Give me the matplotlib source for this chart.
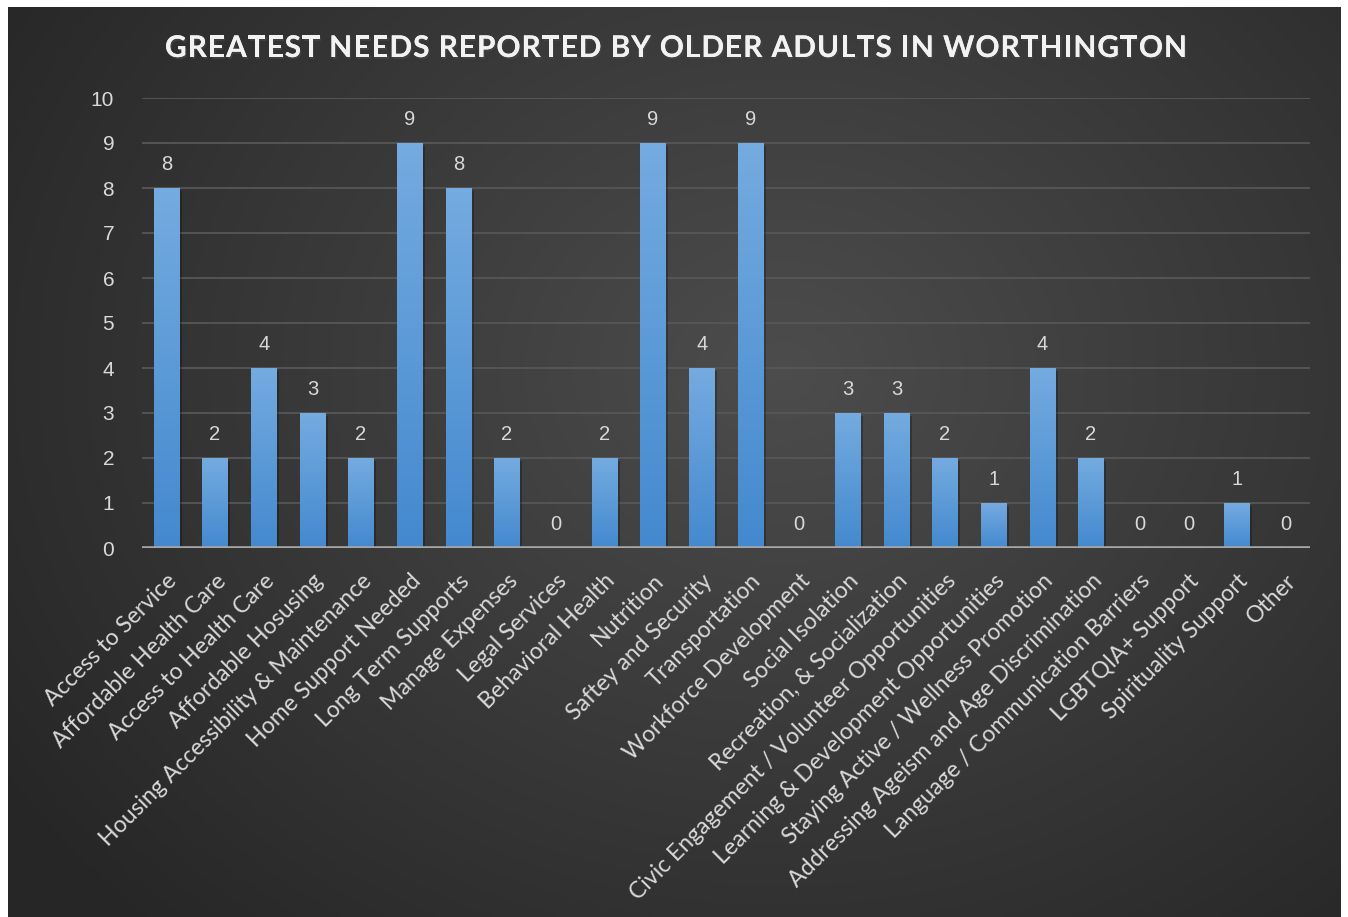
import matplotlib
matplotlib.use("Agg")
import matplotlib.pyplot as plt
import matplotlib.patheffects as pe
import numpy as np
from matplotlib import font_manager
from matplotlib.ft2font import FT2Font

categories = [
    "Access to Service", "Affordable Health Care", "Access to Health Care",
    "Affordable Hosusing", "Housing Accessibility & Maintenance",
    "Home Support Needed", "Long Term Supports", "Manage Expenses",
    "Legal Services", "Behavioral Health", "Nutrition", "Saftey and Security",
    "Transportation", "Workforce Development", "Social Isolation",
    "Recreation, & Socialization", "Civic Engagement / Volunteer Opportunities",
    "Learning & Development Opportunities", "Staying Active / Wellness Promotion",
    "Addressing Ageism and Age Discrimination", "Language / Communication Barriers",
    "LGBTQIA+ Support", "Spirituality Support", "Other",
]
values = [8, 2, 4, 3, 2, 9, 8, 2, 0, 2, 9, 4, 9, 0, 3, 3, 2, 1, 4, 2, 0, 0, 1, 0]
yticks = list(range(0, 11))
title = "GREATEST NEEDS REPORTED BY OLDER ADULTS IN WORTHINGTON"

W, H = 1348, 917
fig = plt.figure(figsize=(W / 100, H / 100), dpi=100)
fig.patch.set_facecolor("white")

# dark radial background panel
bg = fig.add_axes([8 / W, 0, (1341 - 8) / W, (H - 7) / H])
bg.axis("off")
gx, gy = np.meshgrid(np.linspace(0, 1, 400), np.linspace(0, 1, 300))
r = np.sqrt(((gx - 0.58) / 0.7) ** 2 + ((gy - 0.6) / 0.85) ** 2)
shade = 0.30 - 0.15 * np.clip(r, 0, 1)
bg.imshow(np.dstack([shade, shade, shade]), extent=[0, 1, 0, 1], aspect="auto",
          origin="lower", interpolation="bicubic")
bg.set_xlim(0, 1)
bg.set_ylim(0, 1)

ax = fig.add_axes([142 / W, 1 - 548 / H, 1168 / W, 450 / H])
ax.patch.set_alpha(0)
x = np.arange(len(categories))
bars = ax.bar(x, values, width=0.52, color="#5b9bd5", zorder=3)

# vertical gradient on each bar
grad = np.linspace(0, 1, 100).reshape(-1, 1)
top_c = np.array([0x74, 0xab, 0xe0]) / 255
bot_c = np.array([0x44, 0x89, 0xcf]) / 255
grad_img = bot_c + (top_c - bot_c) * grad[..., None]
for b, v in zip(bars, values):
    if v <= 0:
        continue
    b.set_path_effects([pe.withSimplePatchShadow(offset=(2, -2), shadow_rgbFace="black", alpha=0.25)])
    im = ax.imshow(grad_img, extent=[b.get_x(), b.get_x() + b.get_width(), 0, v],
                   origin="lower", aspect="auto", zorder=4)
    im.set_clip_path(b)

ax.set_xlim(-0.5, len(categories) - 0.5)
ax.set_ylim(0, 10)
ax.set_yticks(yticks)
ax.set_yticklabels([str(t) for t in yticks], family="Liberation Sans", fontsize=15, color="#d9d9d9")
ax.yaxis.grid(True, color="#575757", lw=1.3, zorder=0)
ax.set_axisbelow(True)
ax.axhline(0, color="#a6a6a6", lw=2.6, zorder=5)
for s in ax.spines.values():
    s.set_visible(False)
ax.tick_params(axis="both", length=0)
ax.tick_params(axis="y", pad=20)
ax.tick_params(axis="x", pad=16)
ax.set_xticks(x)
ax.set_xticklabels(categories, rotation=45, ha="right", rotation_mode="anchor",
                   family="Lato", fontsize=16.6, color="#d9d9d9")

for i, v in enumerate(values):
    ax.text(i, v + 0.53, str(v), ha="center", va="center", family="Liberation Sans",
            fontsize=14.5, color="#d9d9d9", zorder=6)

# letter-spaced title, fitted to the reference width
tprop = font_manager.FontProperties(family="Lato", weight="bold")
tsize = 21.5
ft = FT2Font(font_manager.findfont(tprop))
ft.set_size(tsize, 100)
adv = [ft.load_char(ord(c)).linearHoriAdvance / 65536 for c in title]
x0, x1 = 165, 1187
spacing = (x1 - x0 - sum(adv)) / (len(title) - 1)
pos = x0
for c, a in zip(title, adv):
    if c != " ":
        fig.text(pos / W, 1 - 48 / H, c, fontproperties=tprop, fontsize=tsize,
                 color="#f2f2f2", va="center", ha="left",
                 path_effects=[pe.withSimplePatchShadow(offset=(1, -1.5), alpha=0.6),
                               pe.Normal()])
    pos += a + spacing

fig.savefig("out.png", dpi=100)
